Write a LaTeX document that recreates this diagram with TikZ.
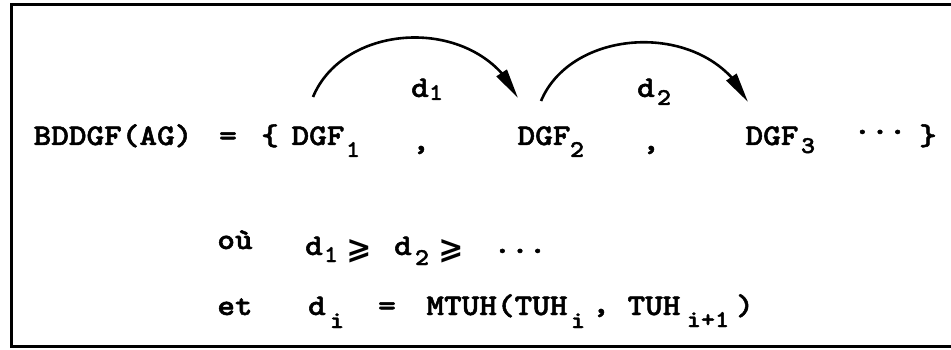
\documentclass[tikz,border=0pt]{standalone}
\usepackage{graphicx}
\usepackage{fontspec}
\newfontfamily\djv{DejaVu Sans}
\newfontfamily\cour{lmmonolt10-bold.otf}[FakeBold=1.6]
\usetikzlibrary{arrows.meta,bending}
\newcommand{\sx}[1]{\scalebox{1.12}[1]{#1}}
\tikzset{
  txt/.style={inner sep=0pt, anchor=base, font=\cour\fontsize{30}{30}\selectfont},
  subtxt/.style={inner sep=0pt, anchor=base, font=\cour\fontsize{24}{24}\selectfont},
  geq/.style={inner sep=0pt, anchor=center, font=\djv\bfseries\fontsize{30}{30}\selectfont},
  arcline/.style={line width=2.6pt, -{Triangle[length=30pt,width=12pt]}},
  frameline/.style={line width=3pt}
}
\begin{document}
\begin{tikzpicture}[x=1pt,y=-1pt]
\useasboundingbox (0,0) rectangle (951,350);
\draw[frameline] (955,4.5) -- (11.5,4.5) -- (11.5,346.5) -- (955,346.5);
% line 1
\node[txt] (lhs) at (113,145) {\sx{BDDGF(AG)}};
\node[txt] (eq1) at (228,145) {\sx{=}};
\node[txt] (lbr) at (270,145) {\sx{\{}};
\node[txt] (g1) at (318,145) {\sx{DGF}};
\node[subtxt] (s1) at (353,157) {\sx{1}};
\node[txt] (c1) at (421,150) {\sx{,}};
\node[txt] (g2) at (544,145) {\sx{DGF}};
\node[subtxt] (s2) at (577,157) {\sx{2}};
\node[txt] (c2) at (651,150) {\sx{,}};
\node[txt] (g3) at (772,145) {\sx{DGF}};
\node[subtxt] (s3) at (808,153) {\sx{3}};
\node[txt] (dots1) at (880,134) {\sx{...}};
\node[txt] (rbr) at (928,145) {\sx{\}}};
% arcs
\coordinate (a1s) at (313,97);
\coordinate (a1e) at (518,98);
\coordinate (a2s) at (541,101);
\coordinate (a2e) at (748,102);
\draw[arcline] (a1s) .. controls (345,20) and (480,15) .. (a1e);
\draw[arcline] (a2s) .. controls (573,25) and (710,20) .. (a2e);
\node[txt] (d1) at (420,97) {\sx{d}};
\node[subtxt] (d1s) at (436,100) {\sx{1}};
\node[txt] (d2) at (646,97) {\sx{d}};
\node[subtxt] (d2s) at (664,105) {\sx{2}};
% line 2
\node[txt] (ou) at (235,249) {\sx{où}};
\node[txt] (e1) at (314,255) {\sx{d}};
\node[subtxt] (e1s) at (331,262) {\sx{1}};
\node[geq] (ge1) at (359,251) {⩾};
\node[txt] (e2) at (403,255) {\sx{d}};
\node[subtxt] (e2s) at (422,265) {\sx{2}};
\node[geq] (ge2) at (451,251) {⩾};
\node[txt] (dots2) at (520,253) {\sx{...}};
% line 3
\node[txt] (et) at (235,315) {\sx{et}};
\node[txt] (di) at (317,315) {\sx{d}};
\node[subtxt] (dis) at (337,328) {\sx{i}};
\node[txt] (eq2) at (387,315) {\sx{=}};
\node[txt] (mt) at (497,315) {\sx{MTUH(TUH}};
\node[subtxt] (mts) at (578,328) {\sx{i}};
\node[txt] (c3) at (601,313) {\sx{,}};
\node[txt] (tuh) at (654,315) {\sx{TUH}};
\node[subtxt] (tuhs) at (708,327) {\sx{i+1}};
\node[txt] (rp) at (745,315) {\sx{)}};
\end{tikzpicture}
\end{document}
